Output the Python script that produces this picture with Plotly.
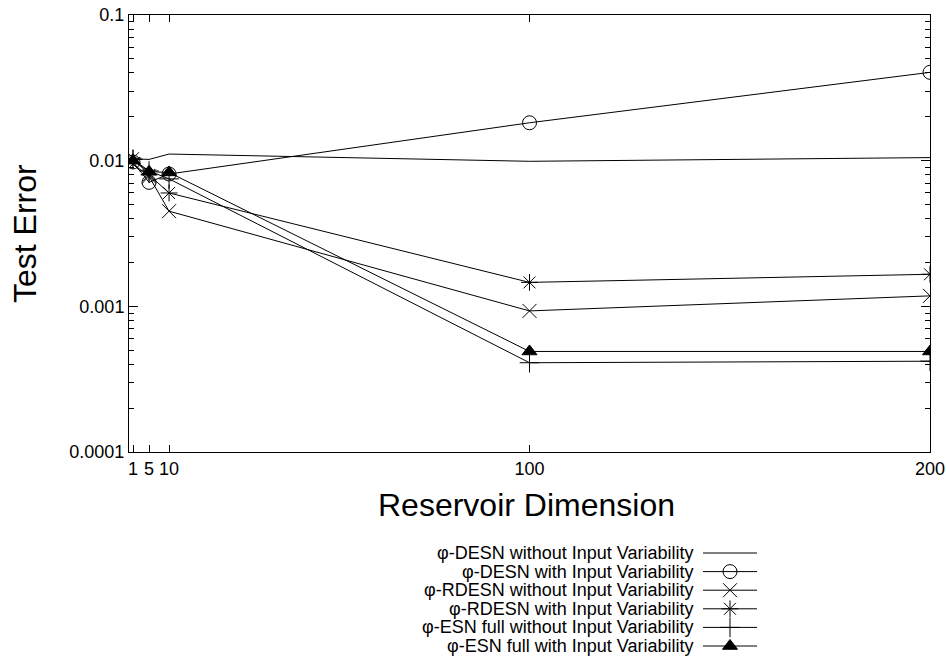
import plotly.graph_objects as go

# ---- data ----
dims = [1, 5, 10, 100, 200]
desn_no_iv = [0.0103, 0.0102, 0.0111, 0.0099, 0.0105]
desn_iv = [0.0098, 0.0071, 0.0081, 0.0182, 0.0404]
rdesn_no_iv = [0.0095, 0.0078, 0.0045, 0.00093, 0.00118]
rdesn_iv = [0.0104, 0.0080, 0.0060, 0.00146, 0.00166]
esn_no_iv = [0.0102, 0.0085, 0.0075, 0.00041, 0.00042]
esn_iv = [0.0100, 0.0084, 0.0083, 0.00049, 0.00049]

names = [
    "φ-DESN without Input Variability",
    "φ-DESN with Input Variability",
    "φ-RDESN without Input Variability",
    "φ-RDESN with Input Variability",
    "φ-ESN full without Input Variability",
    "φ-ESN full with Input Variability",
]
series = [desn_no_iv, desn_iv, rdesn_no_iv, rdesn_iv, esn_no_iv, esn_iv]

x_ticks = [1, 5, 10, 100, 200]
y_ticks = [0.0001, 0.001, 0.01, 0.1]
y_tick_text = ["0.0001", "0.001", "0.01", "0.1"]

# ---- styles ----
FONT = "Liberation Sans, Arial, Helvetica, sans-serif"
TICK = "black"
styles = [
    dict(symbol=None),
    dict(symbol="circle-open", size=14),
    dict(symbol="x-thin-open", size=14),
    dict(symbol="asterisk-open", size=14),
    dict(symbol="cross-thin-open", size=14),
    dict(symbol="triangle-up", size=13),
]

fig = go.Figure()
for name, ys, st in zip(names, series, styles):
    if st["symbol"] is None:
        fig.add_trace(go.Scatter(x=dims, y=ys, mode="lines", name=name,
                                 line=dict(color="black", width=1), showlegend=False))
    else:
        fig.add_trace(go.Scatter(
            x=dims, y=ys, mode="lines+markers", name=name,
            line=dict(color="black", width=1),
            marker=dict(symbol=st["symbol"], size=st["size"], color="black",
                        line=dict(color="black", width=1)),
            showlegend=False))

# ---- manual legend (text left, sample on right, like gnuplot) ----
for i, (name, st) in enumerate(zip(names, styles)):
    if st["symbol"] is None:
        fig.add_trace(go.Scatter(x=[0, 1], y=[i, i], mode="lines", xaxis="x2", yaxis="y2",
                                 line=dict(color="black", width=1), showlegend=False,
                                 hoverinfo="skip"))
    else:
        fig.add_trace(go.Scatter(
            x=[0, 0.5, 1], y=[i, i, i], mode="lines+markers", xaxis="x2", yaxis="y2",
            line=dict(color="black", width=1),
            marker=dict(symbol=st["symbol"], size=st["size"], color="black",
                        opacity=[0, 1, 0], line=dict(color="black", width=1)),
            showlegend=False, hoverinfo="skip"))
    fig.add_annotation(text=name, xref="paper", yref="y2", x=0.706, y=i,
                       xanchor="right", yanchor="middle", showarrow=False,
                       font=dict(family=FONT, size=18, color="black"))

W, H = 946, 659
L, R = 129, 16
main_bottom_px, main_top_px = 452, 15
ydom = [(H - main_bottom_px) / H, (H - main_top_px) / H]

fig.update_layout(
    width=W, height=H,
    margin=dict(l=L, r=R, t=0, b=0, pad=0, autoexpand=False),
    paper_bgcolor="white", plot_bgcolor="white",
    font=dict(family=FONT, size=18, color="black"),
    xaxis=dict(
        range=[0, 200], tickmode="array", tickvals=x_ticks,
        ticktext=[str(v) for v in x_ticks],
        ticks="inside", ticklen=7, tickwidth=1, tickcolor=TICK,
        showline=True, linecolor="black", linewidth=1, mirror="ticks",
        showgrid=False, zeroline=False, automargin=False,
        tickfont=dict(family=FONT, size=18, color="black"),
        anchor="y", layer="above traces",
    ),
    yaxis=dict(
        type="log", range=[-4, -1], tickmode="array", tickvals=y_ticks, ticktext=y_tick_text,
        ticksuffix=" ",
        ticks="inside", ticklen=9, tickwidth=1, tickcolor=TICK,
        minor=dict(ticks="inside", ticklen=5, tickwidth=1, tickcolor=TICK, dtick="D1",
                   showgrid=False),
        showline=True, linecolor="black", linewidth=1, mirror="ticks",
        showgrid=False, zeroline=False, automargin=False,
        domain=ydom,
        tickfont=dict(family=FONT, size=18, color="black"),
        anchor="x", layer="above traces",
    ),
    xaxis2=dict(domain=[(703 - L) / (W - L - R), (757 - L) / (W - L - R)], range=[0, 1],
                visible=False, anchor="y2"),
    yaxis2=dict(domain=[0, (H - 540) / H], range=[5.699, -0.699], visible=False, anchor="x2"),
)

# axis titles
fig.add_annotation(text="Test Error", xref="paper", yref="paper",
                   x=(25 - L) / (W - L - R), y=(H - 233) / H, textangle=-90,
                   xanchor="center", yanchor="middle", showarrow=False,
                   font=dict(family=FONT, size=32, color="black"))
fig.add_annotation(text="Reservoir Dimension", xref="paper", yref="paper",
                   x=(526 - L) / (W - L - R), y=(H - 505) / H,
                   xanchor="center", yanchor="middle", showarrow=False,
                   font=dict(family=FONT, size=32, color="black"))

fig.write_html("out.html")
